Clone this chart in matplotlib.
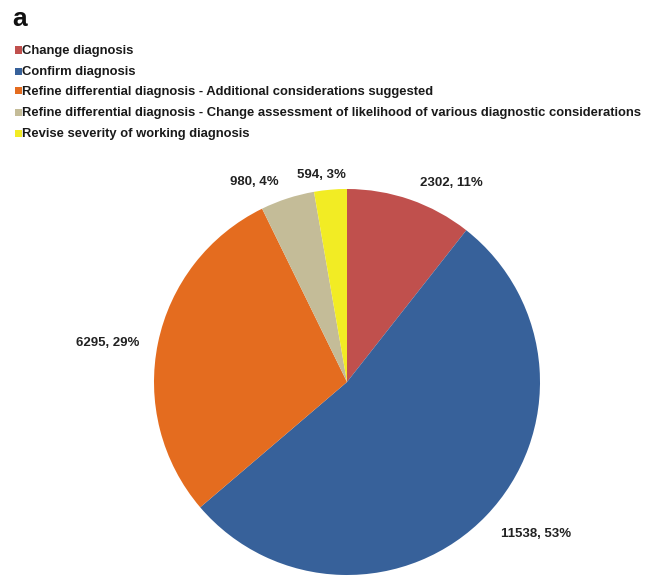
import matplotlib
matplotlib.use("Agg")
import matplotlib.pyplot as plt
from matplotlib.patches import Rectangle

categories = [
    "Change diagnosis",
    "Confirm diagnosis",
    "Refine differential diagnosis - Additional considerations suggested",
    "Refine differential diagnosis - Change assessment of likelihood of various diagnostic considerations",
    "Revise severity of working diagnosis",
]
counts = [2302, 11538, 6295, 980, 594]
percents = [11, 53, 29, 4, 3]
colors = ["#C0504D", "#37619A", "#E46C1F", "#C4BC98", "#F2EC24"]

# label anchor points in pie data units (radius = 1)
label_pos = [(0.54, 1.03), (0.98, -0.79), (-1.24, 0.20), (-0.48, 1.036), (-0.13, 1.073)]

W, H = 651, 577
fig = plt.figure(figsize=(W / 100, H / 100), dpi=100)
fig.patch.set_facecolor("white")

cx, cy, r = 347, 382, 193
ax = fig.add_axes([(cx - r) / W, (H - cy - r) / H, 2 * r / W, 2 * r / H])
ax.pie(counts, colors=colors, startangle=90, counterclock=False, radius=1,
       wedgeprops=dict(linewidth=0))
ax.set_xlim(-1, 1); ax.set_ylim(-1, 1)
ax.set_aspect("equal")
ax.axis("off")

font = ["Liberation Sans", "DejaVu Sans"]
for (lx, ly), n, p in zip(label_pos, counts, percents):
    ax.text(lx, ly, f"{n}, {p}%", ha="center", va="center", fontsize=9.5,
            fontweight="bold", family=font, color="#222222", clip_on=False)

fig.text(12 / W, 1 - 19 / H, "a", fontsize=19, fontweight="bold",
         family=font, va="center", ha="left", color="#111111")

# legend rows, drawn by hand
row_y = [51, 72, 92, 113, 134]
for y, lab, col in zip(row_y, categories, colors):
    fig.add_artist(Rectangle((15 / W, 1 - (y + 2.5) / H), 7 / W, 7 / H,
                             transform=fig.transFigure, facecolor=col, edgecolor="none"))
    fig.text(22 / W, 1 - y / H, lab, fontsize=9.4, fontweight="bold", family=font,
             va="center", ha="left", color="#1a1a1a")

fig.savefig("out.png", dpi=100, facecolor="white")
